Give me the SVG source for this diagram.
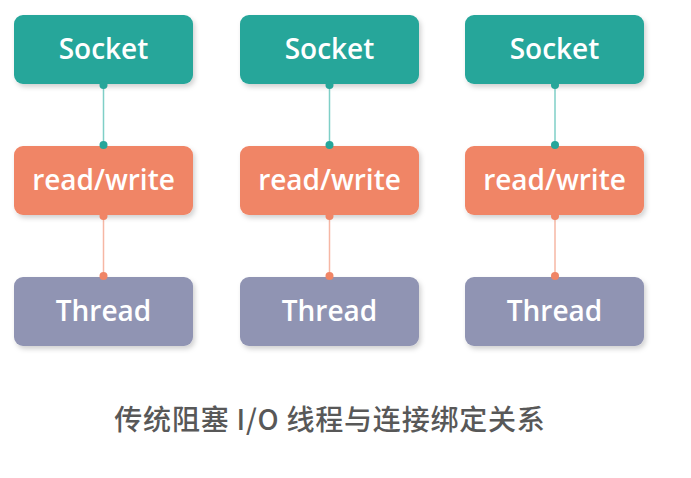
<svg xmlns="http://www.w3.org/2000/svg" width="691" height="478" viewBox="0 0 691 478">
<defs>
<filter id="sh" x="-10%" y="-10%" width="130%" height="140%">
<feDropShadow dx="2" dy="3" stdDeviation="2.5" flood-color="#000" flood-opacity="0.18"/>
</filter>
</defs>
<style>
.lbl{font-family:"Open Sans","Noto Sans","Liberation Sans",sans-serif;font-size:28px;font-weight:600;fill:#fff;text-anchor:middle}
.sock{fill:#26A69A}
.rw{fill:#F08566}
.th{fill:#9094B3}
.l1{stroke:#7FCFC7;stroke-width:1.5}
.l2{stroke:#F6B7A4;stroke-width:1.5}
.d1{fill:#26A69A}
.d2{fill:#F08566}
.cap{font-family:"Noto Sans CJK SC","Noto Sans",sans-serif;font-size:28px;font-weight:500;letter-spacing:0.8px;fill:#585858;text-anchor:middle}
</style>
<rect width="691" height="478" fill="#fff"/>
<g id="connectors">
<line class="l1" x1="103.5" y1="84" x2="103.5" y2="145"/>
<line class="l2" x1="103.5" y1="216" x2="103.5" y2="277"/>
<line class="l1" x1="329.5" y1="84" x2="329.5" y2="145"/>
<line class="l2" x1="329.5" y1="216" x2="329.5" y2="277"/>
<line class="l1" x1="555" y1="84" x2="555" y2="145"/>
<line class="l2" x1="555" y1="216" x2="555" y2="277"/>
</g>
<g id="socket1"><rect class="sock" x="14" y="15" width="179" height="69" rx="9" filter="url(#sh)"/><text class="lbl" x="103.5" y="59">Socket</text></g>
<g id="rw1"><rect class="rw" x="14" y="146" width="179" height="69" rx="9" filter="url(#sh)"/><text class="lbl" x="103.5" y="190">read/write</text></g>
<g id="thread1"><rect class="th" x="14" y="277" width="179" height="69" rx="9" filter="url(#sh)"/><text class="lbl" x="103.5" y="321">Thread</text></g>
<g id="socket2"><rect class="sock" x="240" y="15" width="179" height="69" rx="9" filter="url(#sh)"/><text class="lbl" x="329.5" y="59">Socket</text></g>
<g id="rw2"><rect class="rw" x="240" y="146" width="179" height="69" rx="9" filter="url(#sh)"/><text class="lbl" x="329.5" y="190">read/write</text></g>
<g id="thread2"><rect class="th" x="240" y="277" width="179" height="69" rx="9" filter="url(#sh)"/><text class="lbl" x="329.5" y="321">Thread</text></g>
<g id="socket3"><rect class="sock" x="465" y="15" width="179" height="69" rx="9" filter="url(#sh)"/><text class="lbl" x="554.5" y="59">Socket</text></g>
<g id="rw3"><rect class="rw" x="465" y="146" width="179" height="69" rx="9" filter="url(#sh)"/><text class="lbl" x="554.5" y="190">read/write</text></g>
<g id="thread3"><rect class="th" x="465" y="277" width="179" height="69" rx="9" filter="url(#sh)"/><text class="lbl" x="554.5" y="321">Thread</text></g>
<g id="dots">
<circle class="d1" cx="103.5" cy="85" r="4"/><circle class="d1" cx="103.5" cy="145" r="4"/>
<circle class="d2" cx="103.5" cy="216" r="4"/><circle class="d2" cx="103.5" cy="276" r="4"/>
<circle class="d1" cx="329.5" cy="85" r="4"/><circle class="d1" cx="329.5" cy="145" r="4"/>
<circle class="d2" cx="329.5" cy="216" r="4"/><circle class="d2" cx="329.5" cy="276" r="4"/>
<circle class="d1" cx="555" cy="85" r="4"/><circle class="d1" cx="555" cy="145" r="4"/>
<circle class="d2" cx="555" cy="216" r="4"/><circle class="d2" cx="555" cy="276" r="4"/>
</g>
<text class="cap" x="330" y="430">传统阻塞 I/O 线程与连接绑定关系</text>
</svg>
